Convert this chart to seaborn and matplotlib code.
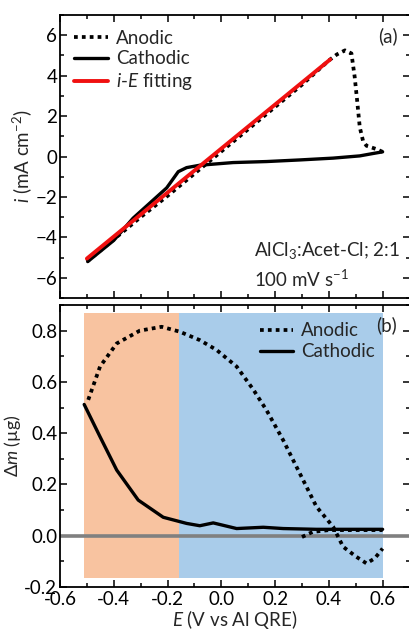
import numpy as np
import pandas as pd
import matplotlib
matplotlib.use("Agg")
import matplotlib.pyplot as plt
from matplotlib.ticker import MultipleLocator
import seaborn as sns

# (a) i-E curves
anodic_E = [-0.50, -0.40, -0.30, -0.20, -0.10, 0.00, 0.10, 0.20, 0.30, 0.40, 0.43, 0.46,
            0.484, 0.496, 0.505, 0.515, 0.527, 0.54, 0.576, 0.60]
anodic_i = [-5.20, -4.10, -3.00, -1.95, -0.85, 0.25, 1.35, 2.45, 3.55, 4.75, 5.05, 5.25,
            5.10, 3.95, 2.80, 1.45, 0.78, 0.53, 0.37, 0.23]
cathodic_E = [-0.497, -0.40, -0.328, -0.203, -0.16, -0.129, -0.079, 0.044, 0.168, 0.292,
              0.416, 0.515, 0.565, 0.60]
cathodic_i = [-5.20, -4.15, -3.05, -1.55, -0.75, -0.55, -0.43, -0.30, -0.25, -0.17,
              -0.08, 0.03, 0.15, 0.23]
fit_E = [-0.50, 0.405]
fit_i = [-5.05, 4.80]

# (b) mass change
m_anodic_E = [-0.495, -0.451, -0.389, -0.303, -0.222, -0.155, -0.08, -0.018, 0.057, 0.119,
              0.168, 0.23, 0.292, 0.354, 0.416, 0.453, 0.502, 0.54, 0.571, 0.60]
m_anodic_m = [0.53, 0.66, 0.75, 0.80, 0.815, 0.796, 0.763, 0.725, 0.66, 0.57,
              0.49, 0.373, 0.243, 0.113, 0.035, -0.043, -0.082, -0.108, -0.088, -0.05]
m_anodic2_E = [0.30, 0.34, 0.40, 0.50, 0.60]
m_anodic2_m = [-0.005, 0.015, 0.022, 0.022, 0.022]
m_cathodic_E = [-0.51, -0.451, -0.389, -0.309, -0.216, -0.129, -0.08, -0.03, 0.057, 0.156,
                0.23, 0.354, 0.60]
m_cathodic_m = [0.512, 0.386, 0.256, 0.139, 0.072, 0.048, 0.039, 0.05, 0.028, 0.033,
                0.028, 0.025, 0.025]

sns.set_style("white")
plt.rcParams['font.family'] = ['Lato', 'DejaVu Sans']
plt.rcParams['mathtext.fontset'] = 'custom'
plt.rcParams['mathtext.rm'] = 'Lato'
plt.rcParams['mathtext.it'] = 'Lato:italic'

FS = 13.5

fig = plt.figure(figsize=(4.09, 6.31), dpi=100)
ax1 = fig.add_axes([60/409, 1 - 298/631, 349.5/409, 283/631])
ax2 = fig.add_axes([60/409, 1 - 587/631, 349.5/409, 282/631])

dot = (0, (1.0, 1.1))

def style(ax):
    for s in ax.spines.values():
        s.set_linewidth(1.3)
        s.set_color('black')
    ax.tick_params(which='both', direction='in', top=True, right=True,
                   left=True, bottom=True, width=1.1, labelsize=FS, colors='black',
                   pad=2)
    ax.tick_params(axis='x', pad=3)
    ax.tick_params(which='major', length=5)
    ax.tick_params(which='minor', length=3)
    ax.xaxis.set_major_locator(MultipleLocator(0.2))
    ax.xaxis.set_minor_locator(MultipleLocator(0.1))
    ax.set_xlim(-0.6, 0.7)

# panel (a)
sns.lineplot(x=anodic_E, y=anodic_i, ax=ax1, color='black', lw=2.7, linestyle=dot,
             sort=False, estimator=None, label='Anodic')
sns.lineplot(x=cathodic_E, y=cathodic_i, ax=ax1, color='black', lw=2.4,
             sort=False, estimator=None, label='Cathodic')
sns.lineplot(x=fit_E, y=fit_i, ax=ax1, color='#f01010', lw=2.8,
             sort=False, estimator=None, label='$i$-$E$ fitting')
style(ax1)
ax1.set_ylim(-7, 7)
ax1.yaxis.set_major_locator(MultipleLocator(2))
ax1.yaxis.set_minor_locator(MultipleLocator(1))
ax1.tick_params(labelbottom=False)
ax1.set_ylabel('$i$ (mA cm$^{-2}$)', fontsize=FS, labelpad=1)
ax1.legend(loc='upper left', frameon=False, fontsize=FS, handlelength=1.8,
           handletextpad=0.4, labelspacing=0.2, borderaxespad=0.0,
           bbox_to_anchor=(0.02, 0.975))
ax1.text(0.965, 0.925, '(a)', transform=ax1.transAxes, fontsize=FS,
         ha='right', va='center')
ax1.text(0.555, 0.117, 'AlCl$_3$:Acet-Cl; 2:1\n100 mV s$^{-1}$',
         transform=ax1.transAxes, fontsize=FS, ha='left', va='center',
         linespacing=1.4)

# panel (b)
ax2.fill_between([-0.51, -0.158], -0.164, 0.87, color='#f8c3a0', lw=0, zorder=0)
ax2.fill_between([-0.158, 0.60], -0.164, 0.87, color='#a9ccea', lw=0, zorder=0)
ax2.axhline(0, color='#808080', lw=2.6, zorder=1)
sns.lineplot(x=m_anodic_E, y=m_anodic_m, ax=ax2, color='black', lw=2.7, linestyle=dot,
             sort=False, estimator=None, label='Anodic', zorder=3)
sns.lineplot(x=m_anodic2_E, y=m_anodic2_m, ax=ax2, color='black', lw=2.7, linestyle=dot,
             sort=False, estimator=None, zorder=3)
sns.lineplot(x=m_cathodic_E, y=m_cathodic_m, ax=ax2, color='black', lw=2.4,
             sort=False, estimator=None, label='Cathodic', zorder=3)
style(ax2)
ax2.set_ylim(-0.2, 0.9)
ax2.yaxis.set_minor_locator(MultipleLocator(0.1))
ax2.set_yticks([-0.2, 0.0, 0.2, 0.4, 0.6, 0.8])
ax2.set_yticklabels(['-0.2', '0.0', '0.2', '0.4', '0.6', '0.8'])
ax2.set_xticks([-0.6, -0.4, -0.2, 0.0, 0.2, 0.4, 0.6])
ax2.set_xticklabels(['-0.6', '-0.4', '-0.2', '0.0', '0.2', '0.4', '0.6'])
ax2.set_ylabel('$\\Delta m$ (\u00b5g)', fontsize=FS - 0.5, labelpad=1)
ax2.set_xlabel('$E$ (V vs Al QRE)', fontsize=FS, labelpad=0)
ax2.legend(loc='upper left', frameon=False, fontsize=FS, handlelength=1.8,
           handletextpad=0.4, labelspacing=0.2, borderaxespad=0.0,
           bbox_to_anchor=(0.55, 0.965))
ax2.text(0.965, 0.93, '(b)', transform=ax2.transAxes, fontsize=FS,
         ha='right', va='center')

fig.savefig('out.png', dpi=100)
